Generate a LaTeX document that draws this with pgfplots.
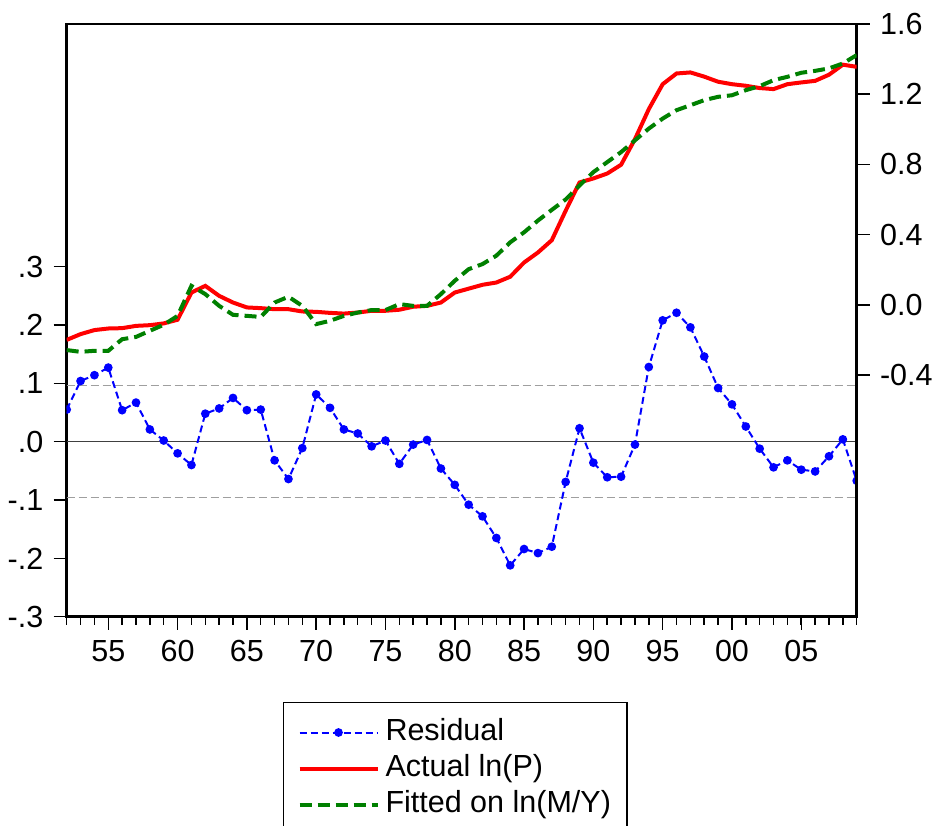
\documentclass[border=0pt]{standalone}
\usepackage{fontspec}
\setmainfont{Liberation Sans}
\usepackage{pgfplots}
\pgfplotsset{compat=1.18}

\begin{document}
\fontsize{30.5}{36}\selectfont
\begin{tikzpicture}
\pgfplotsset{
  common/.style={
    at={(0,0)}, anchor=south west,
    scale only axis, width=790pt, height=592.7pt,
    xmin=1952, xmax=2009,
    axis line style={line width=2.5pt, -},
    tick align=outside,
    major tick length=13pt, minor tick length=8pt,
    tick style={black, line width=1.5pt},
    ticklabel style={font=\fontsize{30.5}{36}\selectfont},
  },
  resid/.style={blue, line width=2pt, dash pattern=on 7pt off 4pt,
    mark=*, mark size=3.3pt, mark options={solid, fill=blue}},
}
% residual (left scale)
\begin{axis}[common,
  ymin=-0.3, ymax=0.716,
  xtick={1955,1960,1965,1970,1975,1980,1985,1990,1995,2000,2005},
  xticklabels={55,60,65,70,75,80,85,90,95,00,05},
  minor xtick={1952,...,2009},
  ytick={-0.3,-0.2,-0.1,0,0.1,0.2,0.3},
  yticklabels={-.3,-.2,-.1,.0,.1,.2,.3},
  xtick pos=left, ytick pos=left,
  clip marker paths=true,
]
\coordinate (bl) at (rel axis cs:0,0);
\coordinate (tr) at (rel axis cs:1,1);
\addplot[black!75, line width=1.3pt] coordinates {(1952,0) (2009,0)};
\addplot[gray!75, line width=1pt, dash pattern=on 8pt off 4pt] coordinates {(1952,0.096) (2009,0.096)};
\addplot[gray!75, line width=1pt, dash pattern=on 8pt off 4pt] coordinates {(1952,-0.096) (2009,-0.096)};
\addplot[resid] coordinates {
(1952,0.055) (1953,0.104) (1954,0.114) (1955,0.127) (1956,0.054) (1957,0.067)
(1958,0.021) (1959,0.002) (1960,-0.020) (1961,-0.040) (1962,0.048) (1963,0.057)
(1964,0.075) (1965,0.054) (1966,0.055) (1967,-0.032) (1968,-0.064) (1969,-0.011)
(1970,0.081) (1971,0.058) (1972,0.021) (1973,0.014) (1974,-0.008) (1975,0.002)
(1976,-0.038) (1977,-0.005) (1978,0.003) (1979,-0.046) (1980,-0.074) (1981,-0.108)
(1982,-0.128) (1983,-0.165) (1984,-0.212) (1985,-0.184) (1986,-0.191) (1987,-0.180)
(1988,-0.069) (1989,0.023) (1990,-0.036) (1991,-0.061) (1992,-0.060) (1993,-0.005)
(1994,0.128) (1995,0.208) (1996,0.221) (1997,0.196) (1998,0.146) (1999,0.092)
(2000,0.064) (2001,0.026) (2002,-0.012) (2003,-0.044) (2004,-0.032) (2005,-0.048)
(2006,-0.051) (2007,-0.025) (2008,0.004) (2009,-0.067)
};
\end{axis}
% actual and fitted (right scale)
\begin{axis}[common,
  ymin=-1.777, ymax=1.6,
  axis x line=none, axis y line*=right,
  ytick={-0.4,0,0.4,0.8,1.2,1.6},
  yticklabels={-0.4,0.0,0.4,0.8,1.2,1.6},
  legend style={at={(axis description cs:0.2735,-0.1435)}, anchor=north west,
    draw=black, line width=1.5pt, font=\fontsize{30.5}{36}\selectfont,
    inner xsep=14pt, inner ysep=12pt, row sep=0pt,
    nodes={inner ysep=4pt, text height=22pt, text depth=6pt}},
  legend cell align=left,
  legend image code/.code={\draw[mark repeat=2, mark phase=2, #1] plot coordinates {(0pt,0pt) (39pt,0pt) (78pt,0pt)};
    \path (82pt,0pt);},
]
\addlegendimage{resid}
\addlegendentry{Residual}
\addplot[red, line width=4pt] coordinates {
(1952,-0.200) (1953,-0.167) (1954,-0.144) (1955,-0.135) (1956,-0.133) (1957,-0.120)
(1958,-0.116) (1959,-0.106) (1960,-0.085) (1961,0.070) (1962,0.108) (1963,0.051)
(1964,0.013) (1965,-0.015) (1966,-0.019) (1967,-0.025) (1968,-0.025) (1969,-0.038)
(1970,-0.040) (1971,-0.046) (1972,-0.050) (1973,-0.044) (1974,-0.034) (1975,-0.034)
(1976,-0.028) (1977,-0.011) (1978,-0.006) (1979,0.013) (1980,0.070) (1981,0.092)
(1982,0.114) (1983,0.127) (1984,0.160) (1985,0.241) (1986,0.298) (1987,0.368)
(1988,0.536) (1989,0.697) (1990,0.720) (1991,0.748) (1992,0.798) (1993,0.944)
(1994,1.115) (1995,1.257) (1996,1.318) (1997,1.324) (1998,1.300) (1999,1.271)
(2000,1.257) (2001,1.248) (2002,1.235) (2003,1.229) (2004,1.257) (2005,1.267)
(2006,1.276) (2007,1.311) (2008,1.368) (2009,1.356)
};
\addlegendentry{Actual ln(P)}
\addplot[green!50!black, line width=4pt, dash pattern=on 12pt off 6pt] coordinates {
(1952,-0.258) (1953,-0.268) (1954,-0.262) (1955,-0.262) (1956,-0.196) (1957,-0.183)
(1958,-0.148) (1959,-0.114) (1960,-0.063) (1961,0.108) (1962,0.061) (1963,-0.006)
(1964,-0.057) (1965,-0.063) (1966,-0.069) (1967,0.013) (1968,0.046) (1969,-0.006)
(1970,-0.110) (1971,-0.091) (1972,-0.063) (1973,-0.044) (1974,-0.030) (1975,-0.030)
(1976,0.004) (1977,-0.006) (1978,-0.006) (1979,0.061) (1980,0.137) (1981,0.203)
(1982,0.232) (1983,0.280) (1984,0.356) (1985,0.413) (1986,0.480) (1987,0.541)
(1988,0.600) (1989,0.680) (1990,0.756) (1991,0.813) (1992,0.870) (1993,0.937)
(1994,1.004) (1995,1.061) (1996,1.109) (1997,1.137) (1998,1.166) (1999,1.185)
(2000,1.194) (2001,1.223) (2002,1.246) (2003,1.280) (2004,1.299) (2005,1.322)
(2006,1.333) (2007,1.347) (2008,1.375) (2009,1.423)
};
\addlegendentry{Fitted on ln(M/Y)\hspace{5pt}}
\end{axis}
\pgfresetboundingbox
\path[use as bounding box] ([xshift=-66.7pt, yshift=-209.3pt]bl) rectangle ([xshift=77.3pt, yshift=24pt]tr);
\end{tikzpicture}
\end{document}
